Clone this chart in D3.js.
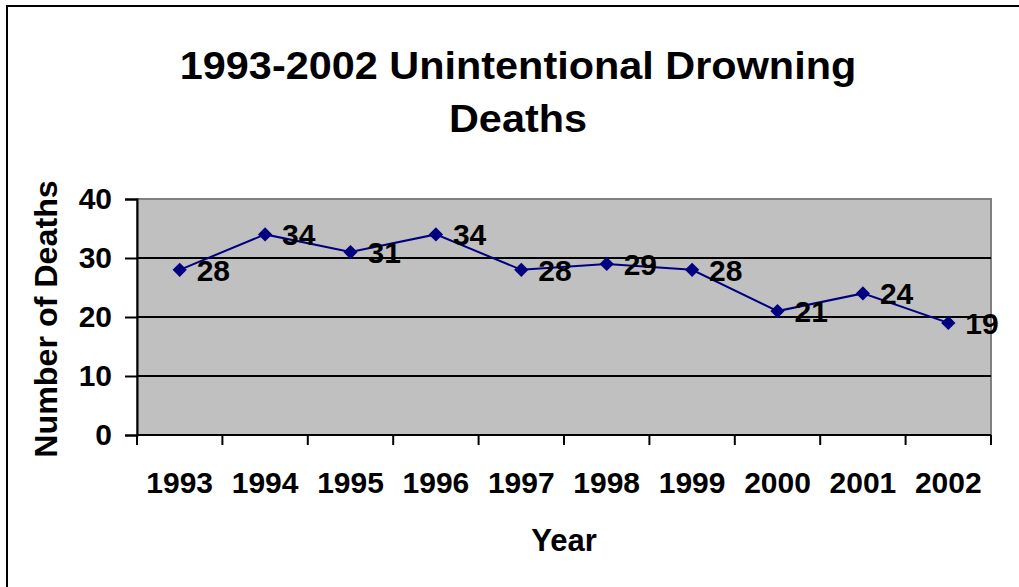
<!DOCTYPE html>
<html>
<head>
<meta charset="utf-8">
<script src="https://cdn.jsdelivr.net/npm/d3@7"></script>
<style>
  body { margin: 0; background: #fff; }
  svg text { font-family: Arial, "Liberation Sans", sans-serif; font-weight: bold; fill: #000; }
</style>
</head>
<body>
<div id="chart"></div>
<script>
// data
const years = ['1993', '1994', '1995', '1996', '1997', '1998', '1999', '2000', '2001', '2002'];
const deaths = [28, 34, 31, 34, 28, 29, 28, 21, 24, 19];
const yTicks = [0, 10, 20, 30, 40];
const titleLines = ['1993-2002 Unintentional Drowning', 'Deaths'];

const width = 1019;
const height = 587;
const plot = { left: 137, right: 991, top: 199, bottom: 435 };
const labelSize = 30;

const svg = d3.select('#chart').append('svg')
  .attr('width', width)
  .attr('height', height);

// outer chart border (only top + left show in frame)
svg.append('path')
  .attr('d', `M7,${height + 5} V6 H${width + 5}`)
  .attr('fill', 'none')
  .attr('stroke', '#000')
  .attr('stroke-width', 2);

// scales
const x = d3.scaleBand()
  .domain(years)
  .range([plot.left, plot.right]);

const y = d3.scaleLinear()
  .domain([0, 40])
  .range([plot.bottom, plot.top]);

// plot area
svg.append('rect')
  .attr('x', plot.left)
  .attr('y', plot.top)
  .attr('width', plot.right - plot.left)
  .attr('height', plot.bottom - plot.top)
  .attr('fill', '#c0c0c0')
  .attr('stroke', '#808080')
  .attr('stroke-width', 2);

// gridlines
svg.append('g')
  .selectAll('line')
  .data(yTicks.filter(d => d > 0 && d < 40))
  .join('line')
  .attr('x1', plot.left)
  .attr('x2', plot.right)
  .attr('y1', d => y(d))
  .attr('y2', d => y(d))
  .attr('stroke', '#000')
  .attr('stroke-width', 2);

// y axis
const yAxis = svg.append('g')
  .attr('transform', `translate(${plot.left},0)`)
  .call(d3.axisLeft(y).tickValues(yTicks).tickSize(12).tickPadding(13));
yAxis.select('.domain').attr('stroke-width', 2);
yAxis.selectAll('.tick line').attr('stroke-width', 2);
yAxis.selectAll('.tick text')
  .attr('font-size', labelSize)
  .attr('font-family', 'Arial, "Liberation Sans", sans-serif')
  .attr('font-weight', 'bold')
  .attr('fill', '#000');

// x axis: ticks between categories
const xAxis = svg.append('g')
  .attr('transform', `translate(0,${plot.bottom})`);
xAxis.append('line')
  .attr('x1', plot.left)
  .attr('x2', plot.right)
  .attr('stroke', '#000')
  .attr('stroke-width', 2);
const bounds = years.map(d => x(d)).concat([x(years[years.length - 1]) + x.bandwidth()]);
xAxis.selectAll('line.tk')
  .data(bounds)
  .join('line')
  .attr('class', 'tk')
  .attr('x1', d => d)
  .attr('x2', d => d)
  .attr('y1', 0)
  .attr('y2', 10)
  .attr('stroke', '#000')
  .attr('stroke-width', 2);
xAxis.selectAll('text')
  .data(years)
  .join('text')
  .attr('x', d => x(d) + x.bandwidth() / 2)
  .attr('y', 58)
  .attr('text-anchor', 'middle')
  .attr('font-size', labelSize)
  .text(d => d);

// line + markers
const pts = years.map((yr, i) => ({ year: yr, value: deaths[i] }));
const cx = d => x(d.year) + x.bandwidth() / 2;

svg.append('path')
  .datum(pts)
  .attr('fill', 'none')
  .attr('stroke', '#000080')
  .attr('stroke-width', 2)
  .attr('d', d3.line().x(cx).y(d => y(d.value)));

svg.append('g')
  .selectAll('path')
  .data(pts)
  .join('path')
  .attr('d', d3.symbol(d3.symbolDiamond2, 130))
  .attr('transform', d => `translate(${cx(d)},${y(d.value)})`)
  .attr('fill', '#000080');

// data labels
svg.append('g')
  .selectAll('text')
  .data(pts)
  .join('text')
  .attr('x', d => cx(d) + 17)
  .attr('y', d => y(d.value) + 11)
  .attr('font-size', labelSize)
  .text(d => d.value);

// titles (reference text runs a bit wide)
svg.append('g')
  .selectAll('text')
  .data(titleLines)
  .join('text')
  .attr('transform', (d, i) => `translate(518,${79 + i * 53}) scale(1.09,1)`)
  .attr('text-anchor', 'middle')
  .attr('font-size', 38)
  .text(d => d);

svg.append('text')
  .attr('x', 564)
  .attr('y', 551)
  .attr('text-anchor', 'middle')
  .attr('font-size', 31)
  .text('Year');

svg.append('text')
  .attr('transform', `translate(57,${(plot.top + plot.bottom) / 2 + 2}) rotate(-90) scale(1.04,1)`)
  .attr('text-anchor', 'middle')
  .attr('font-size', 31)
  .text('Number of Deaths');
</script>
</body>
</html>
